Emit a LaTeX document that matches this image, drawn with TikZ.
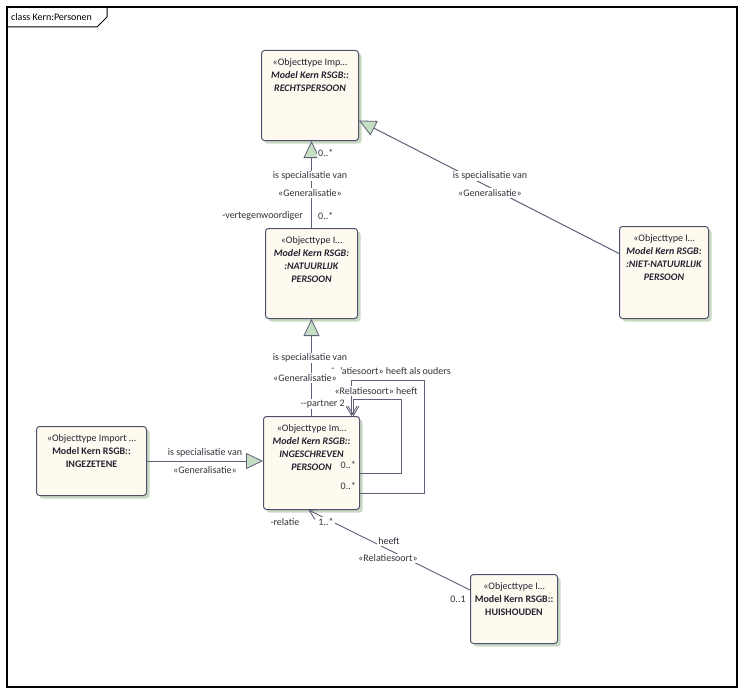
\documentclass[tikz,border=0pt]{standalone}
\usepackage{fontspec}
\setmainfont{Carlito}
\usepackage{tikz}
\usetikzlibrary{arrows.meta}
\usetikzlibrary{shadows}

\definecolor{boxfill}{RGB}{255,250,240}
\definecolor{boxdraw}{RGB}{80,80,108}
\definecolor{boxshade}{RGB}{200,217,195}
\definecolor{boxtext}{RGB}{35,35,50}
\definecolor{lbltext}{RGB}{50,50,60}
\definecolor{linecol}{RGB}{95,95,120}
\definecolor{genfill}{RGB}{197,223,197}

\tikzset{
  objbox/.style={draw=boxdraw, fill=boxfill, line width=1pt, rounded corners=3pt,
    anchor=north west, inner sep=0pt,
    drop shadow={shadow xshift=3pt, shadow yshift=-3pt, fill=boxshade, opacity=1}},
  objtxt/.style={anchor=north, align=center, inner sep=0pt, text=boxtext,
    font=\fontsize{10}{13}\selectfont},
  lbl/.style={inner sep=1pt, fill=white, text=lbltext, font=\fontsize{10}{11}\selectfont},
  gen/.style={draw=linecol, line width=1pt,
    -{Triangle[width=16pt,length=17pt,fill=genfill,line width=0.8pt]}},
  assoc/.style={draw=linecol, line width=0.9pt, -{Straight Barb[length=9pt,width=11pt]}},
}

\begin{document}
\begin{tikzpicture}[x=1pt,y=-1pt]
\useasboundingbox (0,0) rectangle (743,693);
\draw[line width=1.2pt] (7,7) rectangle (737,687);
\draw[line width=1pt] (7,27) -- (97,27) -- (107,17) -- (107,7);
\node[anchor=west, inner sep=0pt, font=\fontsize{10}{11}\selectfont] (title) at (11,17) {class Kern:Personen};

\node[objbox, minimum width=97pt, minimum height=90pt] (rechts) at (261,50) {};
\node[objtxt] (rechts-txt) at ([yshift=-8pt]rechts.north) {«Objecttype Imp…\\ \textbf{\textit{Model Kern RSGB::}}\\ \textbf{\textit{RECHTSPERSOON}}};

\node[objbox, minimum width=92pt, minimum height=90pt] (natuur) at (265,228) {};
\node[objtxt] (natuur-txt) at ([yshift=-8pt]natuur.north) {«Objecttype I…\\ \textbf{\textit{Model Kern RSGB:}}\\ \textbf{\textit{:NATUURLIJK}}\\ \textbf{\textit{PERSOON}}};

\node[objbox, minimum width=89pt, minimum height=92pt] (niet) at (619,226) {};
\node[objtxt] (niet-txt) at ([yshift=-8pt]niet.north) {«Objecttype I…\\ \textbf{\textit{Model Kern RSGB:}}\\ \textbf{\textit{:NIET-NATUURLIJK}}\\ \textbf{\textit{PERSOON}}};

\node[objbox, minimum width=96pt, minimum height=93pt] (ingesch) at (263,416) {};
\node[objtxt] (ingesch-txt) at ([yshift=-8pt]ingesch.north) {«Objecttype Im…\\ \textbf{\textit{Model Kern RSGB::}}\\ \textbf{\textit{INGESCHREVEN}}\\ \textbf{\textit{PERSOON}}};

\node[objbox, minimum width=110pt, minimum height=69pt] (ingez) at (36,426) {};
\node[objtxt] (ingez-txt) at ([yshift=-8pt]ingez.north) {«Objecttype Import …\\ \textbf{Model Kern RSGB::}\\ \textbf{INGEZETENE}};

\node[objbox, minimum width=87pt, minimum height=69pt] (huis) at (470,574) {};
\node[objtxt] (huis-txt) at ([yshift=-8pt]huis.north) {«Objecttype I…\\ \textbf{Model Kern RSGB::}\\ \textbf{HUISHOUDEN}};

\draw[gen] (natuur.north) -- (natuur.north |- rechts.south);
\draw[gen] ([yshift=19pt]niet.west) -- ([yshift=-25pt]rechts.east);
\draw[gen] (ingesch.north) -- (ingesch.north |- natuur.south);
\draw[gen] (ingez.east) -- (ingez.east -| ingesch.west);

\draw[assoc] ([yshift=-10pt]ingesch.east) -- ++(41,0) |- ([xshift=42pt]ingesch.north |- 0,399) -- ([xshift=42pt]ingesch.north);
\draw[assoc] ([yshift=-30pt]ingesch.east) -- ++(64,0) |- ([xshift=40pt]ingesch.north |- 0,380) -- ([xshift=40pt]ingesch.north);
\draw[assoc] ([yshift=-16pt]huis.north west) -- ([xshift=-3pt]ingesch.south);

\node[lbl, anchor=west] (m1) at (317,153) {0..*};
\node[lbl] (g1a) at (310,176) {is specialisatie van};
\node[lbl] (g1b) at (310,193) {«Generalisatie»};
\node[lbl, anchor=east] (r1) at (304,216) {-vertegenwoordiger};
\node[lbl, anchor=west] (m2) at (317,216) {0..*};

\node[lbl] (g2a) at (490,176) {is specialisatie van};
\node[lbl] (g2b) at (490,193) {«Generalisatie»};

\node[lbl] (g3a) at (310,358) {is specialisatie van};
\node[lbl] (g3b) at (305,378) {«Generalisatie»};
\node[lbl, fill=none, inner sep=0pt] (d1) at (333,370) {-};
\node[lbl, anchor=west] (a1) at (339,371) {'atiesoort» heeft als ouders};
\node[lbl] (a2) at (376,391) {«Relatiesoort» heeft};
\node[lbl, anchor=east] (r2) at (346,404) {-{}-partner 2};
\node[lbl, fill=none, anchor=east] (m3) at (357,465) {0..*};
\node[lbl, fill=none, anchor=east] (m4) at (357,486) {0..*};

\node[lbl] (g4a) at (205,453) {is specialisatie van};
\node[lbl] (g4b) at (205,470) {«Generalisatie»};

\node[lbl] (r3) at (285,522) {-relatie};
\node[lbl] (m5) at (326,522) {1..*};
\node[lbl] (a3) at (389,541) {heeft};
\node[lbl] (a4) at (388,558) {«Relatiesoort»};
\node[lbl] (m6) at (458,599) {0..1};
\end{tikzpicture}
\end{document}
